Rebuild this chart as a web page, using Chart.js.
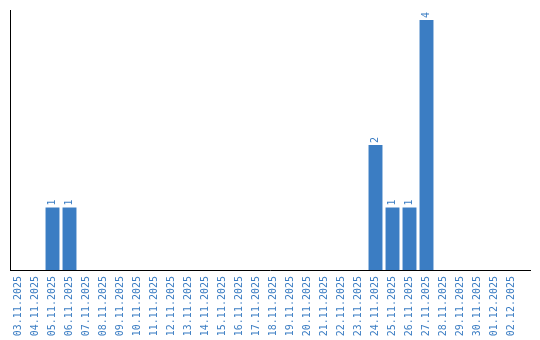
<!DOCTYPE html>
<html>
<head>
<meta charset="utf-8">
<script src="https://cdn.jsdelivr.net/npm/chart.js@4"></script>
<style>
html,body{margin:0;padding:0;background:#fff;}
#wrap{width:540px;height:340px;}
</style>
</head>
<body>
<div id="wrap"><canvas id="c" width="540" height="340"></canvas></div>
<script>
const categories = ["03.11.2025","04.11.2025","05.11.2025","06.11.2025","07.11.2025","08.11.2025","09.11.2025","10.11.2025","11.11.2025","12.11.2025","13.11.2025","14.11.2025","15.11.2025","16.11.2025","17.11.2025","18.11.2025","19.11.2025","20.11.2025","21.11.2025","22.11.2025","23.11.2025","24.11.2025","25.11.2025","26.11.2025","27.11.2025","28.11.2025","29.11.2025","30.11.2025","01.12.2025","02.12.2025"];
const counts = [0,0,1,1,0,0,0,0,0,0,0,0,0,0,0,0,0,0,0,0,0,2,1,1,4,0,0,0,0,0];
const yMax = 4.16;

const BLUE = '#3b7dc3';
const FONT = '"DejaVu Sans Mono", monospace';

const valueLabels = {
  id: 'valueLabels',
  afterDatasetsDraw(chart) {
    const ctx = chart.ctx;
    const meta = chart.getDatasetMeta(0);
    ctx.save();
    ctx.fillStyle = BLUE;
    ctx.font = '10px ' + FONT;
    ctx.textAlign = 'left';
    ctx.textBaseline = 'middle';
    meta.data.forEach((bar, i) => {
      const v = counts[i];
      if (!v) return;
      ctx.save();
      ctx.translate(bar.x, bar.y - 2);
      ctx.rotate(-Math.PI / 2);
      ctx.fillText(String(v), 0, 0);
      ctx.restore();
    });
    ctx.restore();
  }
};

const axisLines = {
  id: 'axisLines',
  afterDraw(chart) {
    const a = chart.chartArea;
    const ctx = chart.ctx;
    ctx.save();
    ctx.strokeStyle = '#000';
    ctx.lineWidth = 1;
    ctx.beginPath();
    ctx.moveTo(a.left + 0.5, a.top);
    ctx.lineTo(a.left + 0.5, a.bottom);
    ctx.moveTo(a.left, a.bottom + 0.5);
    ctx.lineTo(a.right + 11, a.bottom + 0.5);
    ctx.stroke();
    ctx.restore();
  }
};

new Chart(document.getElementById('c'), {
  type: 'bar',
  data: {
    labels: categories,
    datasets: [{
      data: counts,
      backgroundColor: BLUE,
      borderWidth: 0,
      categoryPercentage: 1,
      barPercentage: 0.82
    }]
  },
  options: {
    responsive: false,
    animation: false,
    devicePixelRatio: 1,
    layout: { padding: { left: 10, top: 10, right: 20, bottom: 0 } },
    plugins: { legend: { display: false }, tooltip: { enabled: false } },
    scales: {
      x: {
        grid: { display: false, drawTicks: false },
        border: { display: false },
        ticks: {
          color: BLUE,
          font: { family: FONT, size: 10 },
          minRotation: 90,
          maxRotation: 90,
          autoSkip: false,
          padding: 6
        },
        afterFit(s) { s.height = 70; }
      },
      y: {
        min: 0,
        max: yMax,
        grid: { display: false, drawTicks: false },
        border: { display: false },
        ticks: { display: false },
        afterFit(s) { s.width = 0; }
      }
    }
  },
  plugins: [valueLabels, axisLines]
});
</script>
</body>
</html>
